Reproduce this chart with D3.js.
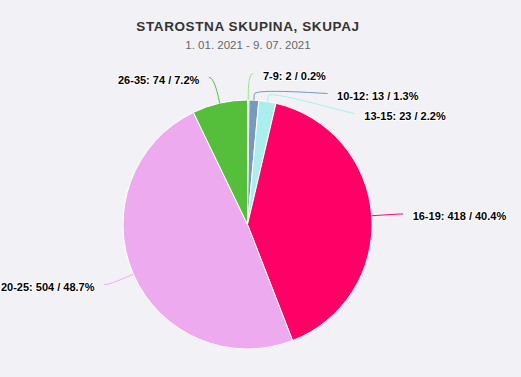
<!DOCTYPE html>
<html>
<head>
<meta charset="utf-8">
<script src="https://cdn.jsdelivr.net/npm/d3@7/dist/d3.min.js"></script>
<style>
  html, body { margin: 0; padding: 0; background: #f2f2f6; }
  svg { display: block; }
</style>
</head>
<body>
<svg id="chart" width="521" height="377"></svg>
<script>
const titleText = "STAROSTNA SKUPINA, SKUPAJ";
const subtitleText = "1. 01. 2021 - 9. 07. 2021";
const categories = ["7-9", "10-12", "13-15", "16-19", "20-25", "26-35"];
const counts = [2, 13, 23, 418, 504, 74];
const percents = ["0.2", "1.3", "2.2", "40.4", "48.7", "7.2"];
const colors = ["#90ee7e", "#7798BF", "#aaeeee", "#ff0066", "#eeaaee", "#55BF3B"];

const W = 521, H = 377;
const cx = 247.5, cy = 224.5, r = 124.5;
const labelR = 151;       // radius of label ring
const breakOff = 6;       // connector break distance beyond the slice
const pad = 5;            // connector padding
const textGap = 9.5;      // gap between connector end and text
const minSpacing = 20;

const svg = d3.select("#chart");
svg.append("rect").attr("width", W).attr("height", H).attr("fill", "#f2f2f6");

svg.append("text")
  .attr("x", 248).attr("y", 31)
  .attr("text-anchor", "middle")
  .attr("font-family", "Liberation Sans, Arial, sans-serif")
  .attr("font-size", 13.5).attr("font-weight", "bold")
  .attr("letter-spacing", 0.6)
  .attr("fill", "#333333")
  .text(titleText);

svg.append("text")
  .attr("x", 248).attr("y", 49)
  .attr("text-anchor", "middle")
  .attr("font-family", "Liberation Sans, Arial, sans-serif")
  .attr("font-size", 11.5)
  .attr("fill", "#666666")
  .text(subtitleText);

const data = categories.map((c, i) => ({ cat: c, value: counts[i], pct: percents[i], color: colors[i], idx: i }));

const pie = d3.pie().value(d => d.value).sort(null).startAngle(0).endAngle(2 * Math.PI);
const arcs = pie(data);
const arcGen = d3.arc().innerRadius(0).outerRadius(r);

const g = svg.append("g").attr("transform", `translate(${cx},${cy})`);
g.selectAll("path.slice")
  .data(arcs)
  .join("path")
  .attr("class", "slice")
  .attr("d", arcGen)
  .attr("fill", d => d.data.color)
  .attr("stroke", "#ffffff")
  .attr("stroke-width", 1)
  .attr("stroke-linejoin", "round");

// label layout
const labels = arcs.map(a => {
  const mid = (a.startAngle + a.endAngle) / 2;
  const right = mid < Math.PI;
  return {
    a, mid, right,
    y: cy - labelR * Math.cos(mid)
  };
});

function distribute(list) {
  list.sort((p, q) => p.y - q.y);
  for (let i = 1; i < list.length; i++) {
    if (list[i].y < list[i - 1].y + minSpacing) list[i].y = list[i - 1].y + minSpacing;
  }
}
distribute(labels.filter(l => l.right));
distribute(labels.filter(l => !l.right));

labels.forEach(l => {
  const dy = Math.max(-1, Math.min(1, (l.y - cy) / labelR));
  const dx = Math.cos(Math.asin(dy)) * labelR + pad;
  l.x = cx + (l.right ? dx : -dx);
  const s = Math.sin(l.mid), c = -Math.cos(l.mid);
  l.touch = { x: cx + r * s, y: cy + r * c };
  l.brk = { x: cx + (r + breakOff) * s, y: cy + (r + breakOff) * c };
});

const conn = svg.append("g");
labels.forEach(l => {
  const p = d3.path();
  p.moveTo(l.x, l.y);
  p.bezierCurveTo(
    l.x + (l.right ? -5 : 5), l.y,
    2 * l.brk.x - l.touch.x, 2 * l.brk.y - l.touch.y,
    l.brk.x, l.brk.y);
  p.lineTo(l.touch.x, l.touch.y);
  conn.append("path")
    .attr("d", p.toString())
    .attr("fill", "none")
    .attr("stroke", l.a.data.color)
    .attr("stroke-width", 1);
});

const lg = svg.append("g");
labels.forEach(l => {
  lg.append("text")
    .attr("x", l.x + (l.right ? textGap : -textGap))
    .attr("y", l.y + 2.5)
    .attr("dy", "0.35em")
    .attr("text-anchor", l.right ? "start" : "end")
    .attr("font-family", "Liberation Sans, Arial, sans-serif")
    .attr("font-size", 11)
    .attr("font-weight", "bold")
    .attr("fill", "#000000")
    .attr("stroke", "#ffffff")
    .attr("stroke-width", 2)
    .attr("stroke-linejoin", "round")
    .attr("paint-order", "stroke")
    .text(`${l.a.data.cat}: ${l.a.data.value} / ${l.a.data.pct}%`);
});
</script>
</body>
</html>
